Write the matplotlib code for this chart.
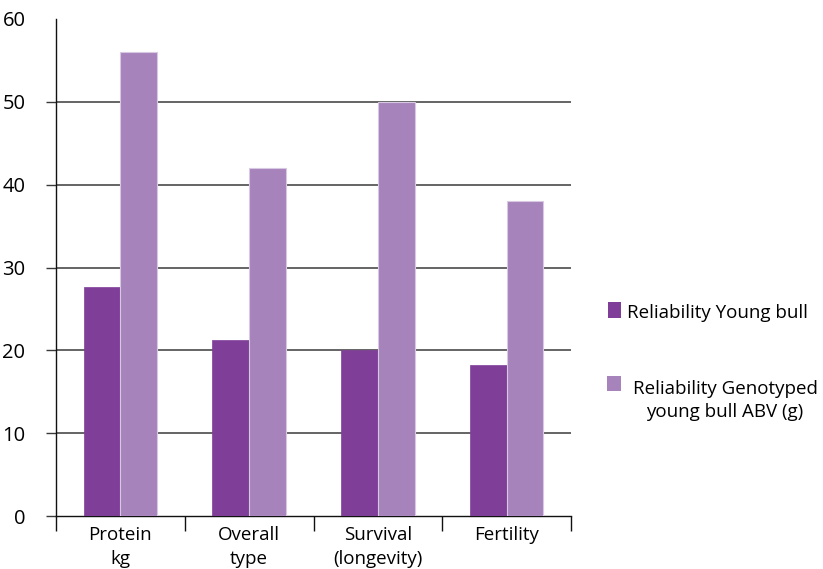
import matplotlib
matplotlib.use("Agg")
import matplotlib.pyplot as plt
from matplotlib.patches import Rectangle
import numpy as np

# Data
categories = ["Protein\nkg", "Overall\ntype", "Survival\n(longevity)", "Fertility"]
young_bull = [27.6, 21.2, 20.0, 18.2]
genotyped = [56.0, 42.0, 50.0, 38.0]
series_labels = ["Reliability Young bull", "Reliability Genotyped\nyoung bull ABV (g)"]
y_ticks = [0, 10, 20, 30, 40, 50, 60]

dark = "#7F3F98"
light = "#A783BB"

plt.rcParams["font.family"] = ["Open Sans", "DejaVu Sans"]

W, H = 823, 569
fig = plt.figure(figsize=(W / 100, H / 100), dpi=100)
ax = fig.add_axes([56 / W, 1 - 516 / H, (571 - 56) / W, (516 - 19) / H])

x = np.arange(len(categories))
bw = 0.285
ax.bar(x - bw / 2, young_bull, width=bw, color=dark, edgecolor=dark, linewidth=0.5, zorder=3)
ax.bar(x + bw / 2, genotyped, width=bw, color=light, edgecolor="#D8C9E2", linewidth=0.8, zorder=3)

ax.set_xlim(-0.5, len(categories) - 0.5)
ax.set_ylim(0, 60)

# Horizontal gridlines (no line at the top value)
for v in y_ticks[1:-1]:
    ax.axhline(v, color="#3a3a3a", linewidth=1.1, zorder=1)

for s in ["top", "right"]:
    ax.spines[s].set_visible(False)
ax.spines["left"].set_linewidth(1.0)
ax.spines["bottom"].set_linewidth(1.0)
ax.spines["left"].set_color("#111111")
ax.spines["bottom"].set_color("#111111")

ax.set_yticks(y_ticks)
ax.set_yticklabels([str(v) for v in y_ticks], fontsize=14.5)
ax.tick_params(axis="y", length=7, width=1.0, color="#3a3a3a", pad=15)
ax.yaxis.get_major_ticks()[-1].tick1line.set_visible(False)

ax.set_xticks(x)
ax.set_xticklabels(categories, fontsize=13.5, linespacing=1.45)
ax.set_xticks(np.arange(-0.5, len(categories), 1.0), minor=True)
ax.tick_params(axis="x", which="major", length=0, pad=7)
ax.tick_params(axis="x", which="minor", length=11, width=1.0, color="#111111")

# Legend drawn in figure pixels
def fx(px):
    return px / W

def fy(py):
    return 1 - py / H

fig.add_artist(Rectangle((fx(607.5), fy(317.5)), 13 / W, 16 / H, transform=fig.transFigure,
                         facecolor=dark, edgecolor="none"))
fig.text(fx(627), fy(317.5), series_labels[0], fontsize=13.5, va="baseline", ha="left")

fig.add_artist(Rectangle((fx(607), fy(391)), 14 / W, 15.5 / H, transform=fig.transFigure,
                         facecolor=light, edgecolor="none"))
fig.text(fx(725), fy(417), series_labels[1], fontsize=13.5, va="baseline", ha="center",
         multialignment="center", linespacing=1.35)

fig.savefig("out.png", dpi=100)
